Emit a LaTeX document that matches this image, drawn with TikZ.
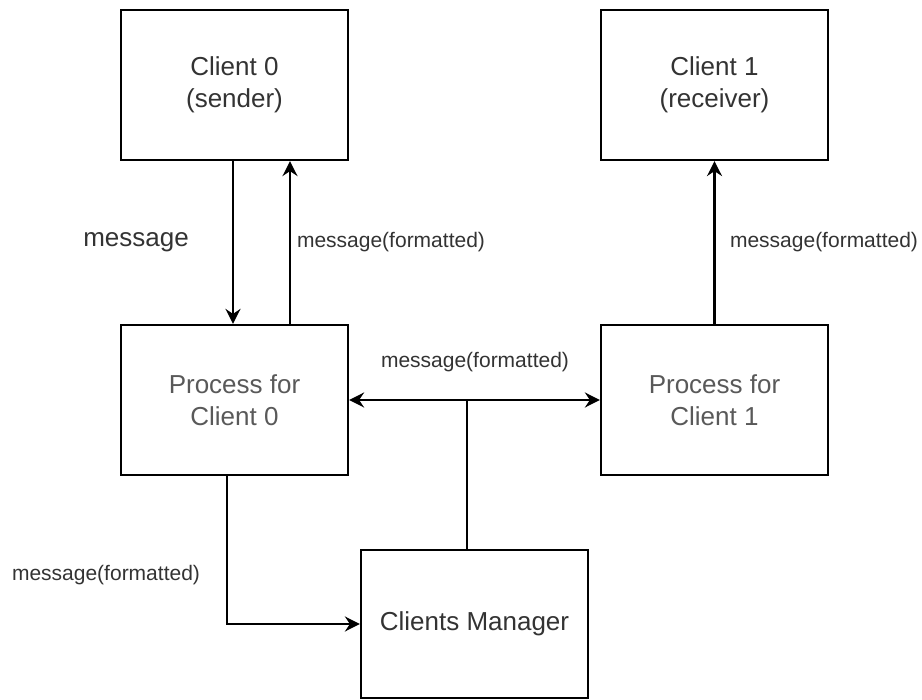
\documentclass[tikz,border=0pt]{standalone}
\usepackage{fontspec}
\setmainfont{Liberation Sans}
\usetikzlibrary{arrows.meta,calc}
\definecolor{txtdark}{HTML}{333333}
\definecolor{txtgray}{HTML}{595959}
\tikzset{
  box/.style={draw=black, line width=2.2pt, minimum width=227pt, minimum height=150pt, inner sep=0pt, align=center, font=\fontsize{26}{32}\selectfont},
  lbl/.style={text=txtdark, inner sep=0pt, font=\fontsize{21}{25}\selectfont},
  arr/.style={line width=2.2pt, -{Stealth[length=15pt,width=15pt,inset=5pt]}},
  ln/.style={line width=2.2pt},
}
\begin{document}
\begin{tikzpicture}[x=1pt,y=-1pt]
\useasboundingbox (0,0) rectangle (922,700);
\node[box, text=txtdark] (c0) at (234.5,85) {Client 0\\(sender)};
\node[box, text=txtdark] (c1) at (714.5,85) {Client 1\\(receiver)};
\node[box, text=txtgray] (p0) at (234.5,400) {Process for\\Client 0};
\node[box, text=txtgray] (p1) at (714.5,400) {Process for\\Client 1};
\node[box, text=txtdark, minimum height=148pt] (m) at (474.5,624) {Clients Manager};
\coordinate (jn) at (467,400);
\draw[arr] ([xshift=-1.5pt]c0.south) -- ([xshift=-1.5pt]p0.north);
\draw[arr] ([xshift=55.5pt]p0.north) -- ([xshift=55.5pt]c0.south);
\draw[arr] (p1.north) -- (c1.south);
\draw[ln] ([xshift=-7.5pt]m.north) -- (jn);
\draw[arr] (jn) -- (p0.east);
\draw[arr] (jn) -- (p1.west);
\draw[arr] ([xshift=-7.5pt]p0.south) |- (m.west);
\node[lbl, font=\fontsize{26}{32}\selectfont] (l0) at (136,242) {message};
\node[lbl] (l1) at (391,242) {message(formatted)};
\node[lbl] (l2) at (824,242) {message(formatted)};
\node[lbl] (l3) at (475,362) {message(formatted)};
\node[lbl] (l4) at (106,575) {message(formatted)};
\end{tikzpicture}
\end{document}
